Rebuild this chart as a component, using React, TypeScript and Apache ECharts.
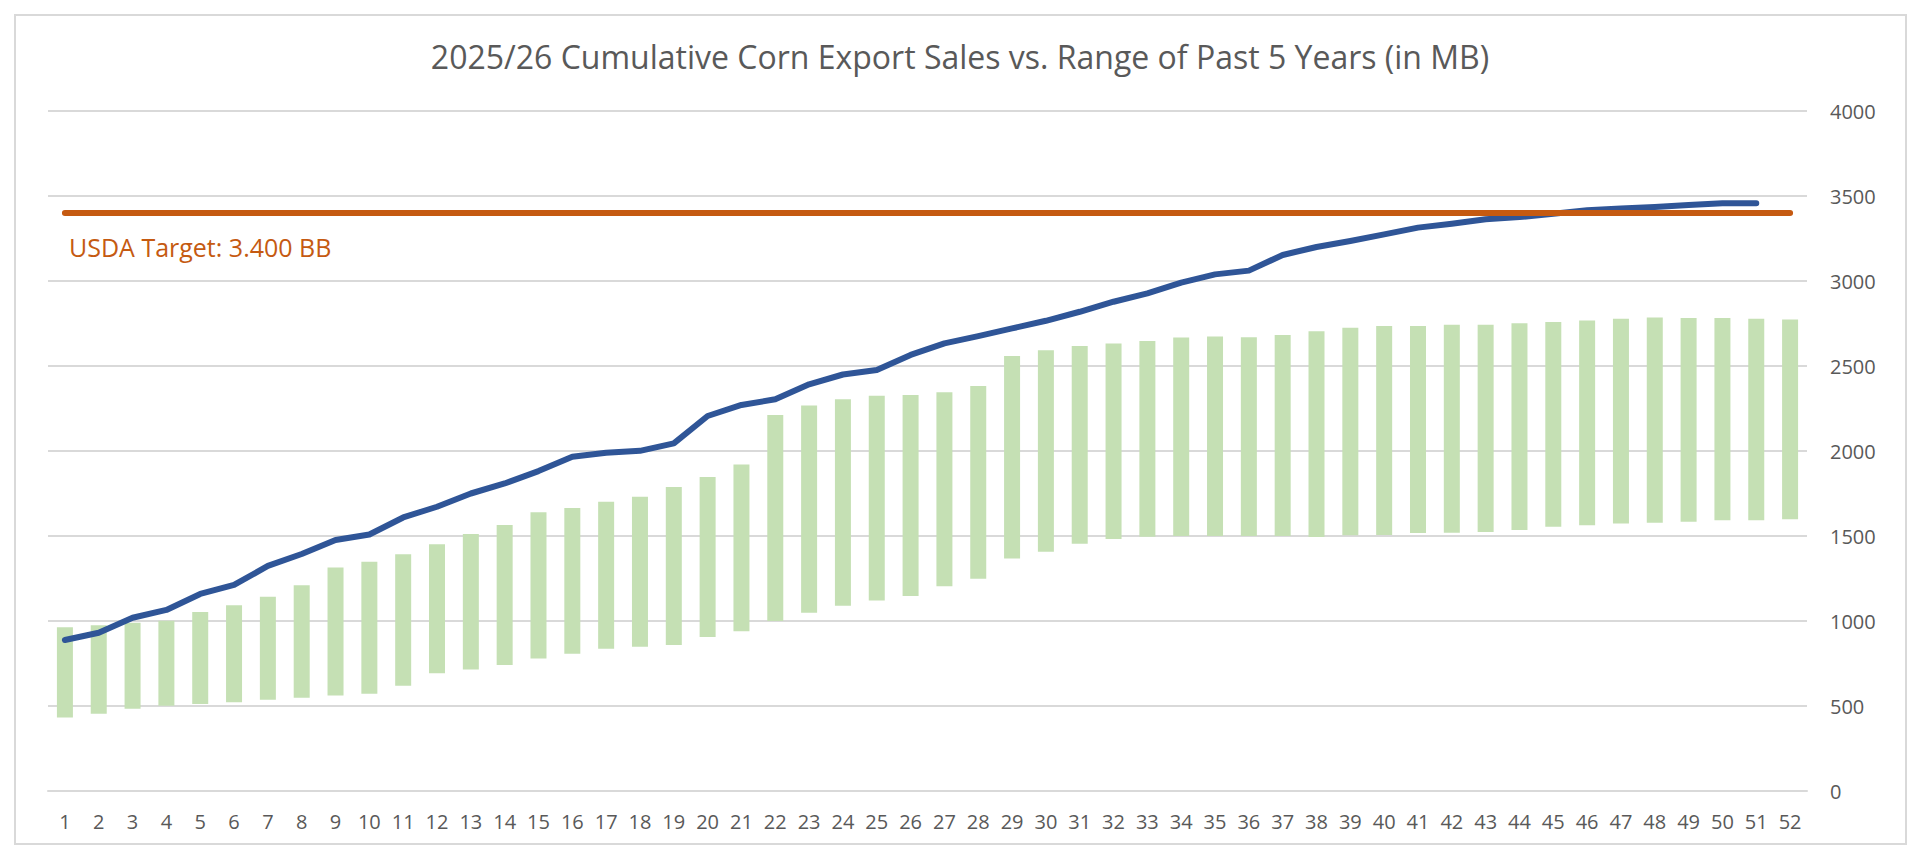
import React, { useEffect, useRef } from "react";
import * as echarts from "echarts";

const weeks: string[] = Array.from({ length: 52 }, (_, i) => String(i + 1));

const rangeMin: number[] = [
  432, 455, 484, 502, 512, 522, 537, 549, 562, 572,
  619, 693, 714, 741, 780, 808, 837, 849, 859, 906,
  939, 1000, 1049, 1090, 1120, 1147, 1204, 1249, 1368, 1408,
  1455, 1482, 1496, 1500, 1500, 1500, 1500, 1494, 1504, 1506,
  1517, 1519, 1523, 1535, 1555, 1563, 1574, 1578, 1584, 1592,
  1592, 1598,
];

const rangeMax: number[] = [
  963, 975, 990, 1002, 1053, 1092, 1143, 1210, 1314, 1349,
  1392, 1452, 1512, 1565, 1639, 1665, 1702, 1731, 1788, 1847,
  1921, 2212, 2267, 2304, 2325, 2329, 2345, 2382, 2559, 2592,
  2618, 2633, 2647, 2667, 2673, 2669, 2682, 2704, 2725, 2735,
  2735, 2743, 2743, 2751, 2759, 2767, 2778, 2786, 2782, 2782,
  2778, 2774,
];

const sales2025: number[] = [
  888, 931, 1019, 1065, 1159, 1212, 1324, 1394, 1476, 1509,
  1609, 1672, 1750, 1809, 1882, 1966, 1990, 2001, 2045, 2206,
  2271, 2304, 2392, 2450, 2476, 2565, 2633, 2676, 2721, 2766,
  2819, 2878, 2927, 2990, 3039, 3061, 3153, 3200, 3235, 3274,
  3314, 3337, 3363, 3376, 3396, 3416, 3427, 3435, 3447, 3457,
  3457,
];

const usdaTarget = 3400;
const yTicks = { min: 0, max: 4000, interval: 500 };

const TITLE = "2025/26 Cumulative Corn Export Sales vs. Range of Past 5 Years (in MB)";
const TARGET_LABEL = "USDA Target: 3.400 BB";
const FONT = "'Open Sans', 'Noto Sans', sans-serif";

export default function App() {
  const ref = useRef<HTMLDivElement>(null);

  useEffect(() => {
    document.body.style.margin = "0";
    if (!ref.current) return;
    const chart = echarts.init(ref.current, undefined, { renderer: "svg" });
    const spans = rangeMax.map((v, i) => v - rangeMin[i]);
    chart.setOption({
      animation: false,
      backgroundColor: "#ffffff",
      textStyle: { fontFamily: FONT },
      title: {
        text: TITLE,
        left: "center",
        top: 35,
        textStyle: { fontFamily: FONT, fontSize: 32, fontWeight: "normal", color: "#595959" },
      },
      grid: { left: 48, right: 113, top: 111, bottom: 74, containLabel: false },
      xAxis: {
        type: "category",
        data: weeks,
        boundaryGap: true,
        axisLine: { show: true, lineStyle: { color: "#d9d9d9", width: 2 } },
        axisTick: { show: false },
        axisLabel: { color: "#595959", fontSize: 20, fontFamily: FONT, margin: 20, interval: 0 },
        splitLine: { show: false },
      },
      yAxis: {
        type: "value",
        position: "right",
        min: yTicks.min,
        max: yTicks.max,
        interval: yTicks.interval,
        axisLine: { show: false },
        axisTick: { show: false },
        axisLabel: {
          color: "#595959",
          fontSize: 20,
          fontFamily: FONT,
          margin: 23,
          align: "left",
          formatter: (v: number) => String(v),
        },
        splitLine: { show: true, lineStyle: { color: "#d9d9d9", width: 2 } },
      },
      series: [
        {
          name: "base",
          type: "bar",
          stack: "range",
          data: rangeMin,
          barWidth: 16,
          itemStyle: { color: "transparent" },
          silent: true,
        },
        {
          name: "Range of Past 5 Years",
          type: "bar",
          stack: "range",
          data: spans,
          barWidth: 16,
          itemStyle: { color: "#c5e0b4" },
        },
        {
          name: "2025/26",
          type: "line",
          data: sales2025,
          showSymbol: false,
          symbol: "none",
          z: 4,
          lineStyle: { color: "#2f5597", width: 6, cap: "round", join: "round" },
          markLine: {
            silent: true,
            symbol: ["none", "none"],
            label: { show: false },
            lineStyle: { color: "#c55a11", width: 6, type: "solid", cap: "round" },
            data: [
              [
                { coord: [weeks[0], usdaTarget] },
                { coord: [weeks[weeks.length - 1], usdaTarget] },
              ],
            ],
          },
        },
      ],
      graphic: [
        {
          type: "rect",
          z: -1,
          shape: { x: 15, y: 15, width: 1891, height: 829 },
          style: { fill: "none", stroke: "#d9d9d9", lineWidth: 2 },
        },
        {
          type: "text",
          x: 69,
          y: 247,
          style: {
            text: TARGET_LABEL,
            fill: "#c55a11",
            fontSize: 25,
            fontFamily: FONT,
            verticalAlign: "middle",
            textAlign: "left",
          },
        },
      ],
    });
    return () => chart.dispose();
  }, []);

  return <div ref={ref} style={{ width: 1920, height: 865 }} />;
}
